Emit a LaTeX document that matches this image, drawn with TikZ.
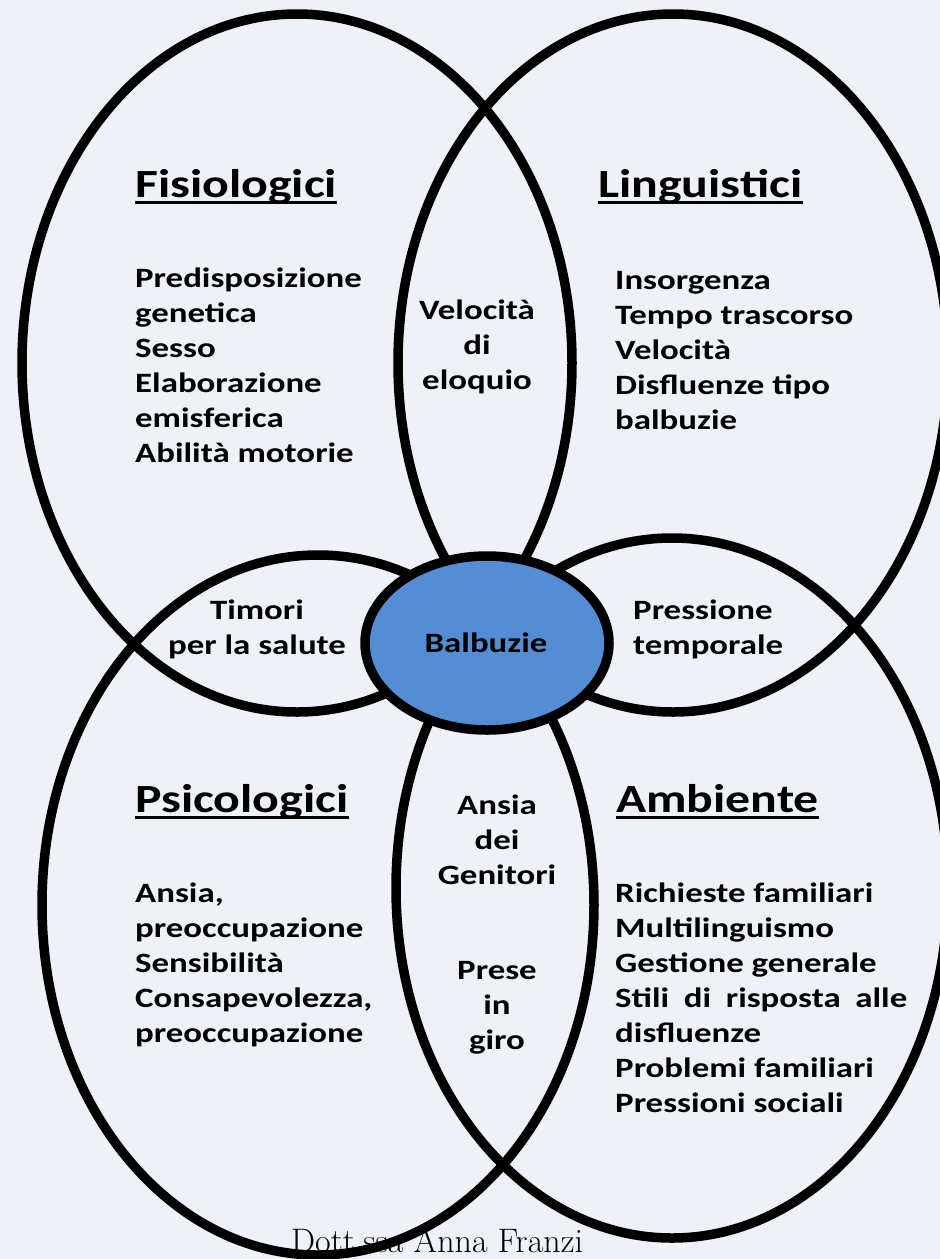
\documentclass[tikz,border=0pt]{standalone}
\usepackage{fontspec}
\usepackage{graphicx}
\newfontfamily\calfont[FakeStretch=1.245]{Carlito}
\definecolor{bg}{RGB}{238,242,248}
\definecolor{blu}{RGB}{85,141,212}
\newcommand{\fstrut}{\rule{0pt}{26pt}}
\tikzset{
  ring/.style={line width=9.5pt, draw=black},
  head/.style={font=\calfont\bfseries\fontsize{40}{48}\selectfont, inner sep=0pt, anchor=base west},
  uline/.style={line width=3pt},
  body/.style={font=\calfont\bfseries\fontsize{28}{35}\selectfont, inner sep=0pt, align=left, anchor=north west},
  lens/.style={font=\calfont\bfseries\fontsize{28}{35}\selectfont, inner sep=0pt, align=center, anchor=north},
  sig/.style={font=\rmfamily\fontsize{34}{40}\selectfont, inner sep=0pt, anchor=base west}
}
\begin{document}
\begin{tikzpicture}[x=1pt,y=-1pt]
\path[use as bounding box, fill=bg] (0,0) rectangle (940,1259);
\clip (0,0) rectangle (940,1259);
% signature (under the lines)
\node[sig] (sig) at (291,1252) {Dott.ssa Anna Franzi};
% big ellipses
\draw[ring] (297,363) ellipse [x radius=275, y radius=349];
\draw[ring] (673,363) ellipse [x radius=275, y radius=349];
\draw[ring] (318,905) ellipse [x radius=276, y radius=350];
\draw[ring] (672,888) ellipse [x radius=276, y radius=350];
% centre
\draw[ring, fill=blu] (487,643) ellipse [x radius=122, y radius=87];
\node[font=\calfont\bfseries\fontsize{28}{35}\selectfont, inner sep=0pt, anchor=base] (balb) at (486,652) {Balbuzie};
% headings
\node[head] (hfis) at (135,197) {Fisiologici};
\node[head] (hlin) at (598,197) {Linguistici};
\node[head] (hpsi) at (135,812) {Psicologici};
\node[head] (hamb) at (616,812) {Ambiente};
\foreach \h in {hfis,hlin,hpsi,hamb}
  \draw[uline] ([yshift=-5pt]\h.base west) -- ([yshift=-5pt]\h.base east);
% bodies
\node[body] (bfis) at (135,261) {\fstrut Predisposizione\\genetica\\Sesso\\Elaborazione\\emisferica\\Abilità motorie};
\node[body] (blin) at (615,263) {\fstrut Insorgenza\\Tempo trascorso\\Velocità\\Disfluenze tipo\\balbuzie};
\node[body] (bpsi) at (135,876) {\fstrut Ansia,\\preoccupazione\\Sensibilità\\Consapevolezza,\\preoccupazione};
\node[body] (bamb) at (615,876) {\fstrut Richieste familiari\\Multilinguismo\\Gestione generale\\\makebox[292pt][s]{Stili di risposta alle}\\disfluenze\\Problemi familiari\\Pressioni sociali};
% lens texts
\node[lens] (lvel) at (477,293) {\fstrut Velocità\\di\\eloquio};
\node[lens] (ltim) at (257,593) {\fstrut Timori\\per la salute};
\node[body] (lpre) at (633,593) {\fstrut Pressione\\temporale};
\node[lens] (lans) at (497,788) {\fstrut Ansia\\dei\\Genitori};
\node[lens] (lpro) at (497,953) {\fstrut Prese\\in\\giro};
\end{tikzpicture}
\end{document}
